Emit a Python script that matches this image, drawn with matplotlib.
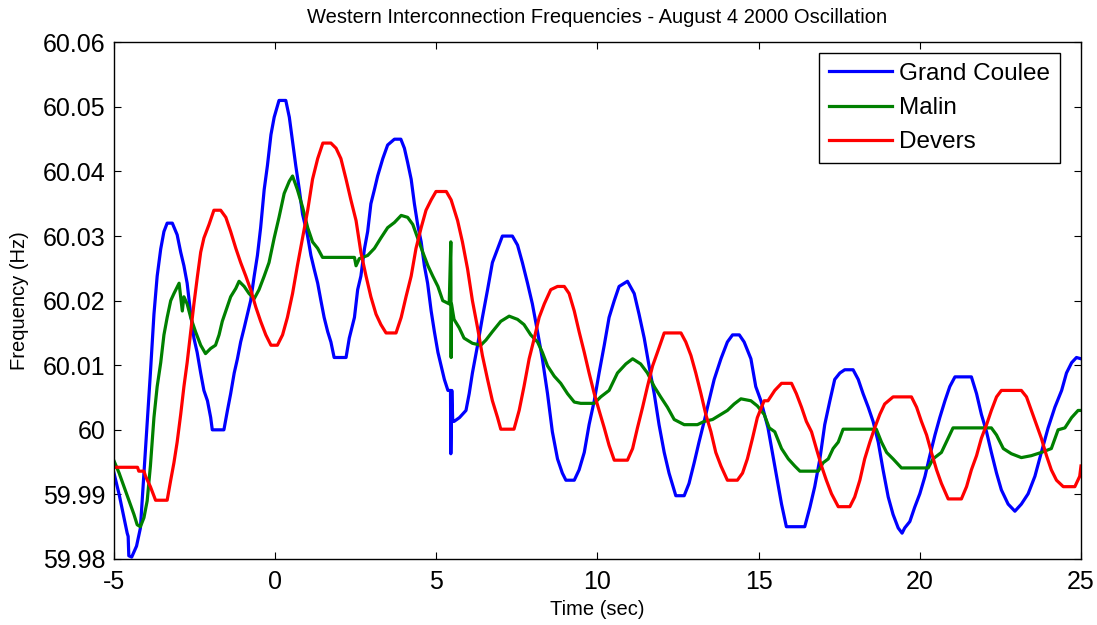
import matplotlib.pyplot as plt
from matplotlib.ticker import FuncFormatter

# Grand Coulee
gc_t = [-5.0, -4.84, -4.69, -4.59, -4.56, -4.54, -4.45, -4.3, -4.18, -4.07, -3.97, -3.87, -3.76, -3.66,
        -3.55, -3.45, -3.35, -3.19, -3.04, -2.93, -2.83, -2.73, -2.62, -2.52, -2.42, -2.31, -2.21,
        -2.1, -2.0, -1.95, -1.59, -1.48, -1.38, -1.27, -1.17, -1.07, -0.96, -0.86, -0.76, -0.65,
        -0.55, -0.45, -0.34, -0.24, -0.13, -0.03, 0.12, 0.33, 0.44, 0.54, 0.64, 0.75, 0.85, 1.0,
        1.11, 1.21, 1.32, 1.42, 1.52, 1.63, 1.73, 1.83, 2.2, 2.3, 2.46, 2.56, 2.66, 2.77, 2.87,
        2.97, 3.08, 3.18, 3.34, 3.49, 3.7, 3.9, 4.01, 4.11, 4.22, 4.32, 4.42, 4.53, 4.63, 4.73,
        4.84, 4.94, 5.05, 5.15, 5.25, 5.36, 5.44, 5.45, 5.48, 5.51, 5.55, 5.72, 5.92, 6.02, 6.12,
        6.28, 6.43, 6.59, 6.74, 6.9, 7.05, 7.36, 7.52, 7.67, 7.83, 7.98, 8.14, 8.29, 8.45, 8.6,
        8.76, 8.91, 9.02, 9.28, 9.43, 9.59, 9.74, 9.9, 10.05, 10.21, 10.36, 10.52, 10.67, 10.93,
        11.14, 11.29, 11.45, 11.6, 11.76, 11.91, 12.07, 12.22, 12.43, 12.69, 12.84, 13.0, 13.15,
        13.31, 13.46, 13.62, 13.83, 14.03, 14.19, 14.4, 14.55, 14.76, 14.91, 15.07, 15.29, 15.5,
        15.71, 15.86, 16.43, 16.59, 16.74, 16.9, 17.05, 17.21, 17.36, 17.52, 17.67, 17.93, 18.09,
        18.24, 18.4, 18.55, 18.71, 18.86, 19.02, 19.17, 19.33, 19.45, 19.53, 19.69, 19.84, 20.0,
        20.16, 20.31, 20.47, 20.62, 20.78, 20.93, 21.09, 21.6, 21.76, 21.91, 22.07, 22.22, 22.38,
        22.53, 22.74, 22.95, 23.15, 23.36, 23.57, 23.77, 23.98, 24.19, 24.4, 24.55, 24.71, 24.86, 25.0]
gc_f = [59.9933, 59.99, 59.9864, 59.984, 59.9835, 59.9805, 59.9803, 59.982, 59.9848, 59.9933, 60.0008,
        60.0088, 60.0179, 60.0238, 60.028, 60.0307, 60.032, 60.032, 60.0302, 60.0275, 60.0254,
        60.0227, 60.0179, 60.0142, 60.012, 60.0088, 60.0061, 60.0045, 60.0019, 60.0, 60.0, 60.003,
        60.0056, 60.0088, 60.011, 60.0136, 60.0158, 60.0179, 60.02, 60.0238, 60.027, 60.0313,
        60.0372, 60.0409, 60.0457, 60.0484, 60.051, 60.051, 60.0484, 60.0447, 60.0409, 60.0372,
        60.0334, 60.0302, 60.027, 60.0249, 60.0227, 60.02, 60.0174, 60.0152, 60.0136, 60.0112,
        60.0112, 60.0142, 60.0174, 60.0217, 60.0238, 60.028, 60.0307, 60.035, 60.0372, 60.0393,
        60.042, 60.0441, 60.045, 60.045, 60.0436, 60.0414, 60.0388, 60.035, 60.0318, 60.0291,
        60.0254, 60.0227, 60.0184, 60.0152, 60.012, 60.0099, 60.0078, 60.0061, 60.0061, 59.9963,
        60.0061, 60.0013, 60.0013, 60.0019, 60.003, 60.0056, 60.0088, 60.0131, 60.0174, 60.0217,
        60.0259, 60.028, 60.03, 60.03, 60.0286, 60.0259, 60.0227, 60.0195, 60.0152, 60.011,
        60.0056, 59.9997, 59.9955, 59.9933, 59.9922, 59.9922, 59.9938, 59.9965, 60.0008, 60.0045,
        60.0088, 60.0131, 60.0174, 60.02, 60.0222, 60.023, 60.0211, 60.0179, 60.0142, 60.0099,
        60.0056, 60.0008, 59.9965, 59.9933, 59.9898, 59.9898, 59.9917, 59.9949, 59.9981, 60.0013,
        60.0045, 60.0078, 60.011, 60.0136, 60.0147, 60.0147, 60.0136, 60.011, 60.0067, 60.0045,
        60.0003, 59.9944, 59.9885, 59.985, 59.985, 59.988, 59.9912, 59.9955, 60.0008, 60.0045,
        60.0078, 60.0088, 60.0093, 60.0093, 60.0078, 60.0056, 60.0035, 60.0013, 59.9981, 59.9938,
        59.9896, 59.9869, 59.9848, 59.984, 59.9848, 59.9858, 59.988, 59.9901, 59.9928, 59.996,
        59.9992, 60.0019, 60.0045, 60.0067, 60.0082, 60.0082, 60.0056, 60.0024, 59.9997, 59.9965,
        59.9933, 59.9907, 59.9885, 59.9874, 59.9885, 59.9901, 59.9928, 59.9965, 60.0003, 60.0035,
        60.0061, 60.0088, 60.0104, 60.0112, 60.011]

# Malin
ml_t = [-5.0, -4.84, -4.69, -4.53, -4.38, -4.28, -4.18, -4.07, -3.97, -3.87, -3.76, -3.66, -3.55,
        -3.45, -3.35, -3.24, -3.14, -2.98, -2.88, -2.83, -2.73, -2.62, -2.47, -2.31, -2.16, -2.0,
        -1.85, -1.74, -1.64, -1.53, -1.38, -1.22, -1.12, -0.96, -0.81, -0.65, -0.5, -0.34, -0.19,
        -0.03, 0.12, 0.28, 0.44, 0.54, 0.69, 0.85, 1.01, 1.16, 1.32, 1.47, 2.46, 2.51, 2.61, 2.87,
        3.08, 3.28, 3.49, 3.7, 3.91, 4.11, 4.27, 4.42, 4.58, 4.74, 4.89, 5.05, 5.2, 5.4, 5.45,
        5.46, 5.47, 5.55, 5.71, 5.86, 6.12, 6.38, 6.54, 6.74, 7.0, 7.26, 7.52, 7.72, 7.93, 8.14,
        8.29, 8.45, 8.66, 8.86, 9.07, 9.28, 9.48, 9.9, 10.1, 10.36, 10.62, 10.88, 11.09, 11.34,
        11.55, 11.76, 11.96, 12.17, 12.38, 12.69, 13.1, 13.31, 13.57, 13.83, 14.03, 14.24, 14.45,
        14.76, 14.96, 15.17, 15.33, 15.5, 15.71, 15.92, 16.12, 16.28, 16.85, 17.0, 17.16, 17.31,
        17.47, 17.62, 18.65, 18.81, 18.97, 19.17, 19.43, 20.26, 20.41, 20.67, 20.88, 21.03, 22.22,
        22.38, 22.59, 22.84, 23.15, 23.46, 23.77, 24.08, 24.29, 24.5, 24.71, 24.91, 25.0]
ml_f = [59.9952, 59.9933, 59.9912, 59.989, 59.9869, 59.9853, 59.985, 59.9864, 59.989, 59.9944,
        60.0019, 60.0067, 60.0104, 60.0147, 60.0174, 60.02, 60.0211, 60.0227, 60.0184, 60.0206,
        60.0195, 60.0174, 60.0152, 60.0131, 60.0118, 60.0126, 60.0131, 60.0147, 60.0168, 60.0184,
        60.0206, 60.0219, 60.023, 60.0222, 60.0211, 60.0203, 60.0217, 60.0238, 60.0259, 60.0297,
        60.0329, 60.0366, 60.0385, 60.0393, 60.0372, 60.0345, 60.0313, 60.0291, 60.0281, 60.0267,
        60.0267, 60.0254, 60.0265, 60.027, 60.0281, 60.0297, 60.0313, 60.0321, 60.0332, 60.0329,
        60.0318, 60.0297, 60.0275, 60.0254, 60.0238, 60.0222, 60.02, 60.0195, 60.0291, 60.0112,
        60.0195, 60.0171, 60.0158, 60.0142, 60.0134, 60.0131, 60.0139, 60.0152, 60.0168, 60.0176,
        60.0171, 60.0163, 60.0147, 60.0136, 60.012, 60.0099, 60.0083, 60.0072, 60.0056, 60.0043,
        60.0041, 60.0041, 60.0051, 60.0061, 60.0088, 60.0102, 60.011, 60.0102, 60.0088, 60.0067,
        60.0051, 60.0035, 60.0016, 60.0008, 60.0008, 60.0013, 60.0016, 60.0024, 60.003, 60.004,
        60.0048, 60.0045, 60.0037, 60.0024, 60.0003, 59.9997, 59.9971, 59.9955, 59.9944, 59.9936,
        59.9936, 59.9949, 59.9955, 59.9971, 59.9981, 60.0001, 60.0001, 59.9981, 59.9965, 59.9955,
        59.9941, 59.9941, 59.9955, 59.9965, 59.9987, 60.0003, 60.0003, 59.9992, 59.9971, 59.9963,
        59.9957, 59.996, 59.9965, 59.9971, 60.0, 60.0003, 60.0019, 60.003, 60.003]

# Devers
dv_t = [-5.0, -4.27, -4.23, -4.07, -4.02, -3.87, -3.71, -3.35, -3.24, -3.14, -3.04, -2.93, -2.83,
        -2.73, -2.62, -2.52, -2.41, -2.31, -2.21, -2.05, -1.9, -1.69, -1.53, -1.38, -1.22, -1.07,
        -0.91, -0.76, -0.6, -0.45, -0.29, -0.13, 0.07, 0.23, 0.38, 0.54, 0.69, 0.85, 1.01, 1.16,
        1.32, 1.48, 1.73, 1.89, 2.04, 2.2, 2.35, 2.51, 2.66, 2.82, 2.97, 3.13, 3.28, 3.44, 3.75,
        3.91, 4.06, 4.22, 4.37, 4.53, 4.68, 4.84, 4.99, 5.31, 5.46, 5.66, 5.81, 5.97, 6.12, 6.28,
        6.43, 6.59, 6.74, 6.9, 7.0, 7.41, 7.57, 7.72, 7.88, 8.04, 8.19, 8.35, 8.55, 8.76, 8.97,
        9.12, 9.28, 9.43, 9.59, 9.74, 9.9, 10.05, 10.21, 10.36, 10.52, 10.93, 11.09, 11.24, 11.4,
        11.55, 11.71, 11.86, 12.07, 12.59, 12.74, 12.9, 13.05, 13.21, 13.36, 13.52, 13.67, 13.83,
        14.03, 14.34, 14.5, 14.65, 14.81, 14.96, 15.17, 15.29, 15.5, 15.71, 16.02, 16.17, 16.33,
        16.48, 16.64, 16.79, 16.95, 17.1, 17.26, 17.47, 17.83, 17.98, 18.14, 18.29, 18.45, 18.6,
        18.76, 18.91, 19.17, 19.74, 19.9, 20.05, 20.21, 20.36, 20.52, 20.67, 20.88, 21.29, 21.45,
        21.6, 21.76, 21.91, 22.07, 22.22, 22.38, 22.53, 23.15, 23.31, 23.46, 23.62, 23.77, 23.93,
        24.08, 24.24, 24.45, 24.81, 24.96, 25.0]
dv_f = [59.9942, 59.9942, 59.9936, 59.9936, 59.9928, 59.9912, 59.9891, 59.9891, 59.9922, 59.9949,
        59.9981, 60.0024, 60.0067, 60.0104, 60.0152, 60.0195, 60.0238, 60.0275, 60.0297, 60.0318,
        60.034, 60.034, 60.0329, 60.0307, 60.0281, 60.0259, 60.0238, 60.0217, 60.019, 60.0168,
        60.0147, 60.0131, 60.0131, 60.0147, 60.0174, 60.0211, 60.0254, 60.0297, 60.034, 60.0388,
        60.042, 60.0444, 60.0444, 60.0436, 60.042, 60.0388, 60.0356, 60.0324, 60.0275, 60.0238,
        60.0206, 60.0179, 60.0163, 60.015, 60.015, 60.0174, 60.0206, 60.0238, 60.0281, 60.0313,
        60.034, 60.0356, 60.0369, 60.0369, 60.0356, 60.0324, 60.0291, 60.0249, 60.02, 60.0158,
        60.0115, 60.0078, 60.0045, 60.0019, 60.0001, 60.0001, 60.003, 60.0067, 60.011, 60.0142,
        60.0174, 60.0195, 60.0217, 60.0222, 60.0222, 60.0211, 60.0184, 60.0152, 60.012, 60.0088,
        60.0056, 60.003, 60.0003, 59.9976, 59.9953, 59.9953, 59.9971, 60.0003, 60.0035, 60.0067,
        60.0099, 60.012, 60.015, 60.015, 60.0136, 60.0115, 60.0088, 60.0056, 60.0024, 59.9997,
        59.9965, 59.9944, 59.9922, 59.9922, 59.9933, 59.9955, 59.9987, 60.0019, 60.0045, 60.0045,
        60.0061, 60.0072, 60.0072, 60.0056, 60.0035, 60.0013, 59.9997, 59.9971, 59.9944, 59.9922,
        59.9901, 59.9881, 59.9881, 59.9896, 59.9922, 59.9955, 59.9981, 60.0003, 60.0024, 60.004,
        60.0051, 60.0051, 60.0035, 60.0013, 59.9992, 59.9965, 59.9938, 59.9917, 59.9893, 59.9893,
        59.9912, 59.9938, 59.996, 59.9987, 60.0008, 60.003, 60.0051, 60.0061, 60.0061, 60.0051,
        60.003, 60.0008, 59.9987, 59.996, 59.9938, 59.9922, 59.9912, 59.9912, 59.9928, 59.9944]

plt.rcParams['font.family'] = ['Liberation Sans', 'DejaVu Sans']
plt.rcParams['axes.unicode_minus'] = False

fig = plt.figure(figsize=(10.97, 6.25), dpi=100)
ax = fig.add_axes([0.1039, 0.1056, 0.8815, 0.8267])

ax.plot(gc_t, gc_f, color=(0, 0, 1), lw=2.3, label='Grand Coulee')
ax.plot(ml_t, ml_f, color=(0, 0.5, 0), lw=2.3, label='Malin')
ax.plot(dv_t, dv_f, color=(1, 0, 0), lw=2.3, label='Devers')

ax.set_xlim(-5, 25)
ax.set_ylim(59.98, 60.06)
ax.set_xticks(range(-5, 26, 5))
ax.set_yticks([59.98 + 0.01 * i for i in range(9)])
ax.yaxis.set_major_formatter(FuncFormatter(lambda v, p: '%g' % round(v, 2)))
ax.tick_params(direction='in', top=True, right=True, labelsize=18, length=5, width=0.8, pad=6)
ax.tick_params(axis='x', pad=8)
for s in ax.spines.values():
    s.set_linewidth(1.0)

ax.set_title('Western Interconnection Frequencies - August 4 2000 Oscillation', fontsize=14.5, pad=14)
ax.set_xlabel('Time (sec)', fontsize=14.5, labelpad=4)
ax.set_ylabel('Frequency (Hz)', fontsize=14.5, labelpad=10)

leg = ax.legend(loc='upper right', bbox_to_anchor=(0.978, 0.979), borderaxespad=0,
                fontsize=17.5, handlelength=2.6, fancybox=False, framealpha=1,
                edgecolor='black', labelspacing=0.5, handletextpad=0.3, borderpad=0.4)
leg.get_frame().set_linewidth(1.0)

fig.savefig('out.png', dpi=100)
